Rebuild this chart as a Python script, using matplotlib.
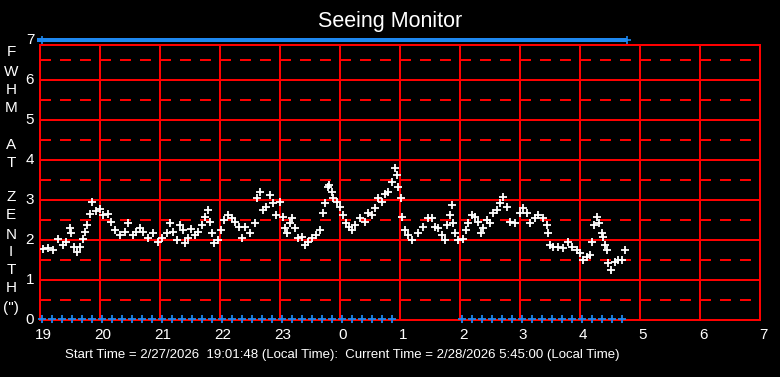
import matplotlib
matplotlib.use("Agg")
import matplotlib.pyplot as plt
import numpy as np

plt.rcParams['font.family'] = ['Liberation Sans', 'DejaVu Sans']
plt.rcParams['lines.scale_dashes'] = False

# minutes after 19:00 (local time) and FWHM at zenith (arcsec)
minutes = [3, 8, 13, 18, 23, 26, 30, 31, 34, 37, 40, 43, 45, 47, 50, 52, 56, 60, 63, 68,
           71, 75, 80, 85, 88, 93, 96, 100, 103, 108, 113, 118, 122, 127, 130, 133, 137, 140,
           143, 145, 148, 151, 155, 158, 162, 165, 168, 170, 172, 174, 178, 181, 184, 188,
           192, 195, 199, 202, 205, 210, 215, 217, 220, 223, 226, 230, 233, 236, 240, 243,
           245, 247, 250, 252, 255, 258, 262, 265, 268, 272, 276, 280, 283, 285, 288, 289,
           292, 293, 297, 300, 303, 306, 309, 312, 315, 320, 325, 328, 332, 335, 338, 342,
           345, 348, 352, 355, 357, 358, 361, 362, 365, 368, 372, 378, 383, 388, 392, 395,
           398, 402, 405, 407, 410, 412, 413, 415, 418, 423, 426, 428, 432, 435, 438, 441,
           443, 447, 450, 453, 457, 460, 463, 467, 470, 475, 480, 483, 487, 490, 495, 498,
           503, 507, 508, 510, 513, 518, 523, 528, 532, 537, 540, 543, 547, 550, 552, 554,
           557, 559, 562, 563, 565, 567, 568, 571, 575, 578, 582, 585]
fwhm = [1.77, 1.80, 1.75, 2.02, 1.87, 1.95, 2.30, 2.17, 1.83, 1.70, 1.83, 2.02, 2.20, 2.37,
        2.65, 2.95, 2.73, 2.77, 2.62, 2.65, 2.45, 2.25, 2.12, 2.20, 2.42, 2.12, 2.20, 2.30,
        2.20, 2.05, 2.17, 1.95, 2.05, 2.17, 2.42, 2.20, 2.00, 2.37, 2.25, 1.92, 2.05, 2.27,
        2.12, 2.20, 2.37, 2.57, 2.75, 2.45, 2.17, 1.92, 2.00, 2.25, 2.50, 2.62, 2.55, 2.45,
        2.33, 2.05, 2.33, 2.17, 2.42, 3.05, 3.20, 2.75, 2.82, 3.12, 2.92, 2.62, 2.95, 2.58,
        2.30, 2.17, 2.42, 2.55, 2.30, 2.05, 2.08, 1.87, 1.95, 2.05, 2.12, 2.25, 2.67, 2.92,
        3.33, 3.37, 3.20, 3.05, 2.95, 2.82, 2.62, 2.42, 2.33, 2.25, 2.37, 2.55, 2.45, 2.67,
        2.62, 2.80, 3.05, 2.95, 3.15, 3.20, 3.45, 3.80, 3.62, 3.33, 3.05, 2.58, 2.25, 2.12,
        2.00, 2.17, 2.33, 2.55, 2.55, 2.33, 2.30, 2.12, 2.00, 2.37, 2.62, 2.87, 2.42, 2.17,
        2.00, 2.02, 2.25, 2.42, 2.62, 2.58, 2.45, 2.17, 2.30, 2.50, 2.42, 2.67, 2.75, 2.92,
        3.07, 2.82, 2.45, 2.42, 2.67, 2.80, 2.67, 2.42, 2.55, 2.62, 2.55, 2.37, 2.17, 1.87,
        1.83, 1.83, 1.80, 1.95, 1.83, 1.75, 1.67, 1.50, 1.57, 1.62, 1.95, 2.37, 2.58, 2.42,
        2.17, 2.08, 1.87, 1.75, 1.42, 1.25, 1.45, 1.50, 1.50, 1.75]

# status flags (minutes after 19:00)
top_flag_minutes = list(range(2, 586, 10))
bottom_flag_minutes = list(range(2, 353, 10)) + list(range(422, 583, 10))

x_tick_labels = ['19', '20', '21', '22', '23', '0', '1', '2', '3', '4', '5', '6', '7']
y_tick_labels = ['0', '1', '2', '3', '4', '5', '6', '7']
ylabel_letters = ['F', 'W', 'H', 'M', 'A', 'T', 'Z', 'E', 'N', 'I', 'T', 'H', '(")']
ylabel_pix_y = [52, 72, 90, 108, 145, 163, 197, 215, 235, 252, 270, 288, 308]

W, H = 780, 377
fig = plt.figure(figsize=(7.8, 3.77), dpi=100, facecolor='black')
ax = fig.add_axes([40 / W, 57 / H, 720 / W, 275 / H], facecolor='black')

t = 19 + np.array(minutes) / 60.0
ax.set_xlim(19, 31)
ax.set_ylim(0, 6.875)

red = '#ff0000'
glw = 1.1
for hh in range(20, 31):
    ax.axvline(hh, color=red, lw=glw, zorder=1, antialiased=False)
for yy in range(1, 7):
    ax.axhline(yy, color=red, lw=glw, zorder=1, antialiased=False)
for yy in np.arange(0.5, 6.6, 1.0):
    ax.axhline(yy, color=red, lw=glw, zorder=1, linestyle=(0, (7.9, 6.5)), antialiased=False)

for s in ax.spines.values():
    s.set_color(red)
    s.set_linewidth(1.3)
    s.set_antialiased(False)

ax.set_xticks([])
ax.set_yticks([])

xt = ax.get_xaxis_transform()
for i, lab in enumerate(x_tick_labels):
    ax.text(19 + i + 0.05, -0.03, lab, transform=xt, color='white', fontsize=11,
            ha='center', va='top', clip_on=False)
yt = ax.get_yaxis_transform()
for i, lab in enumerate(y_tick_labels):
    ax.text(-0.008, i, lab, transform=yt, color='white', fontsize=11,
            ha='right', va='center', clip_on=False)

ax.plot(t, fwhm, linestyle='none', marker='+', color='white', markersize=6,
        markeredgewidth=1.3, zorder=5)

blue = '#1e88f0'
rect = [(-1, -0.45), (1, -0.45), (1, 0.45), (-1, 0.45), (-1, -0.45)]
tt = 19 + np.array(top_flag_minutes) / 60.0
ax.plot(tt, [7] * len(tt), linestyle='none', marker=rect, markersize=6.6,
        markeredgewidth=0, color=blue, clip_on=False, zorder=6)
ax.plot([tt[0], 19 + 587 / 60], [7, 7], linestyle='none', marker='+', markersize=6,
        markeredgewidth=1.2, color=blue, clip_on=False, zorder=6)
tb = 19 + np.array(bottom_flag_minutes) / 60.0
ax.plot(tb, [0.02] * len(tb), linestyle='none', marker='+', markersize=6,
        markeredgewidth=1.3, color=blue, clip_on=False, zorder=6)

fig.text(0.5, 1 - 21 / H, 'Seeing Monitor', color='white', fontsize=15.5,
         ha='center', va='center')
for lab, py in zip(ylabel_letters, ylabel_pix_y):
    fig.text(11 / W, 1 - py / H, lab, color='white', fontsize=11, ha='center', va='center')
fig.text(342 / W, 1 - 355 / H,
         'Start Time = 2/27/2026  19:01:48 (Local Time):  Current Time = 2/28/2026 5:45:00 (Local Time)',
         color='white', fontsize=9.55, ha='center', va='center')

fig.savefig('out.png', dpi=100, facecolor='black')
